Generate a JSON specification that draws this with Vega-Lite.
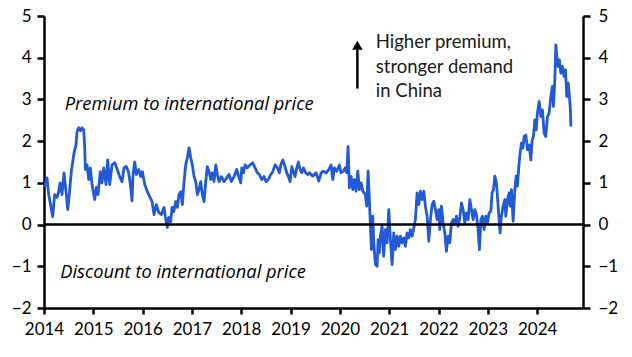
{
  "$schema": "https://vega.github.io/schema/vega-lite/v6.json",
  "width": 539,
  "height": 292,
  "autosize": {"type": "none"},
  "padding": {"left": 44, "top": 16, "right": 49, "bottom": 49},
  "config": {"view": {"stroke": null}, "font": "Lato"},
  "layer": [
    {
      "data": {"values": [
        {"t":2014.014,"v":0.9},{"t":2014.061,"v":1.12},{"t":2014.095,"v":0.72},{"t":2014.122,"v":0.55},{"t":2014.176,"v":0.19},{"t":2014.217,"v":0.72},{"t":2014.264,"v":0.65},{"t":2014.298,"v":0.79},{"t":2014.325,"v":1.0},{"t":2014.365,"v":0.72},{"t":2014.406,"v":1.24},{"t":2014.446,"v":0.79},{"t":2014.481,"v":0.36},{"t":2014.513,"v":0.72},{"t":2014.554,"v":1.27},{"t":2014.582,"v":1.5},{"t":2014.615,"v":1.75},{"t":2014.649,"v":1.91},{"t":2014.669,"v":2.22},{"t":2014.704,"v":2.32},{"t":2014.74,"v":2.25},{"t":2014.771,"v":2.32},{"t":2014.805,"v":2.27},{"t":2014.826,"v":1.84},{"t":2014.838,"v":1.32},{"t":2014.872,"v":1.43},{"t":2014.907,"v":1.08},{"t":2014.939,"v":1.36},{"t":2014.974,"v":0.96},{"t":2015.028,"v":0.6},{"t":2015.061,"v":0.89},{"t":2015.095,"v":0.72},{"t":2015.142,"v":1.27},{"t":2015.176,"v":1.0},{"t":2015.211,"v":1.36},{"t":2015.258,"v":0.96},{"t":2015.292,"v":1.55},{"t":2015.333,"v":0.96},{"t":2015.379,"v":1.43},{"t":2015.434,"v":1.48},{"t":2015.487,"v":1.32},{"t":2015.535,"v":1.15},{"t":2015.582,"v":1.03},{"t":2015.623,"v":1.36},{"t":2015.669,"v":1.39},{"t":2015.718,"v":1.24},{"t":2015.759,"v":0.89},{"t":2015.785,"v":0.57},{"t":2015.805,"v":1.2},{"t":2015.84,"v":1.5},{"t":2015.872,"v":1.2},{"t":2015.921,"v":1.32},{"t":2015.961,"v":1.15},{"t":2015.994,"v":1.27},{"t":2016.043,"v":0.96},{"t":2016.095,"v":0.79},{"t":2016.144,"v":0.67},{"t":2016.191,"v":0.55},{"t":2016.231,"v":0.24},{"t":2016.278,"v":0.48},{"t":2016.327,"v":0.29},{"t":2016.379,"v":0.24},{"t":2016.434,"v":0.41},{"t":2016.46,"v":0.19},{"t":2016.501,"v":-0.07},{"t":2016.529,"v":0.17},{"t":2016.57,"v":0.07},{"t":2016.596,"v":0.41},{"t":2016.631,"v":0.31},{"t":2016.671,"v":0.55},{"t":2016.704,"v":0.41},{"t":2016.738,"v":0.72},{"t":2016.773,"v":0.79},{"t":2016.805,"v":0.48},{"t":2016.84,"v":1.03},{"t":2016.874,"v":1.43},{"t":2016.907,"v":1.6},{"t":2016.941,"v":1.84},{"t":2016.976,"v":1.6},{"t":2017.008,"v":1.43},{"t":2017.043,"v":1.15},{"t":2017.077,"v":1.03},{"t":2017.11,"v":0.72},{"t":2017.144,"v":0.84},{"t":2017.178,"v":1.03},{"t":2017.211,"v":0.72},{"t":2017.245,"v":0.55},{"t":2017.28,"v":1.03},{"t":2017.312,"v":1.39},{"t":2017.347,"v":1.27},{"t":2017.381,"v":1.08},{"t":2017.414,"v":1.24},{"t":2017.448,"v":1.03},{"t":2017.483,"v":1.43},{"t":2017.515,"v":1.2},{"t":2017.55,"v":1.03},{"t":2017.596,"v":1.15},{"t":2017.651,"v":1.03},{"t":2017.706,"v":1.12},{"t":2017.753,"v":1.2},{"t":2017.799,"v":1.03},{"t":2017.854,"v":1.15},{"t":2017.909,"v":1.32},{"t":2017.955,"v":1.12},{"t":2017.99,"v":1.0},{"t":2018.01,"v":1.36},{"t":2018.043,"v":1.24},{"t":2018.077,"v":1.43},{"t":2018.124,"v":1.36},{"t":2018.179,"v":1.43},{"t":2018.233,"v":1.48},{"t":2018.28,"v":1.36},{"t":2018.327,"v":1.24},{"t":2018.367,"v":1.2},{"t":2018.416,"v":1.08},{"t":2018.462,"v":1.15},{"t":2018.503,"v":1.03},{"t":2018.55,"v":1.08},{"t":2018.598,"v":1.2},{"t":2018.639,"v":1.27},{"t":2018.686,"v":1.43},{"t":2018.732,"v":1.36},{"t":2018.773,"v":1.24},{"t":2018.801,"v":1.43},{"t":2018.842,"v":1.55},{"t":2018.888,"v":1.39},{"t":2018.923,"v":1.24},{"t":2018.955,"v":1.15},{"t":2018.99,"v":1.03},{"t":2019.024,"v":1.39},{"t":2019.057,"v":1.27},{"t":2019.091,"v":1.15},{"t":2019.126,"v":1.36},{"t":2019.158,"v":1.5},{"t":2019.193,"v":1.32},{"t":2019.227,"v":1.24},{"t":2019.26,"v":1.36},{"t":2019.308,"v":1.24},{"t":2019.349,"v":1.2},{"t":2019.381,"v":1.24},{"t":2019.45,"v":1.16},{"t":2019.517,"v":1.24},{"t":2019.572,"v":1.04},{"t":2019.619,"v":1.24},{"t":2019.665,"v":1.28},{"t":2019.72,"v":1.24},{"t":2019.775,"v":1.32},{"t":2019.822,"v":1.43},{"t":2019.856,"v":1.08},{"t":2019.888,"v":1.36},{"t":2019.937,"v":1.28},{"t":2019.99,"v":1.43},{"t":2020.024,"v":1.24},{"t":2020.071,"v":1.28},{"t":2020.112,"v":1.36},{"t":2020.14,"v":1.24},{"t":2020.166,"v":1.87},{"t":2020.193,"v":0.88},{"t":2020.227,"v":1.16},{"t":2020.262,"v":0.84},{"t":2020.294,"v":1.08},{"t":2020.329,"v":0.8},{"t":2020.363,"v":1.28},{"t":2020.396,"v":0.84},{"t":2020.43,"v":1.0},{"t":2020.465,"v":0.8},{"t":2020.517,"v":0.72},{"t":2020.546,"v":0.44},{"t":2020.572,"v":1.28},{"t":2020.598,"v":0.6},{"t":2020.619,"v":-0.04},{"t":2020.639,"v":-0.6},{"t":2020.667,"v":0.2},{"t":2020.688,"v":-0.43},{"t":2020.72,"v":-0.96},{"t":2020.755,"v":-1.0},{"t":2020.775,"v":-0.36},{"t":2020.801,"v":-0.68},{"t":2020.822,"v":-0.28},{"t":2020.856,"v":-0.04},{"t":2020.888,"v":-0.76},{"t":2020.923,"v":-0.12},{"t":2020.957,"v":-0.44},{"t":2020.992,"v":0.36},{"t":2021.024,"v":-0.36},{"t":2021.059,"v":-0.96},{"t":2021.093,"v":-0.2},{"t":2021.126,"v":-0.6},{"t":2021.16,"v":-0.28},{"t":2021.195,"v":-0.52},{"t":2021.227,"v":-0.28},{"t":2021.262,"v":-0.44},{"t":2021.296,"v":-0.32},{"t":2021.329,"v":-0.52},{"t":2021.363,"v":-0.2},{"t":2021.398,"v":-0.32},{"t":2021.43,"v":-0.12},{"t":2021.465,"v":-0.28},{"t":2021.499,"v":-0.08},{"t":2021.531,"v":0.12},{"t":2021.566,"v":0.76},{"t":2021.6,"v":0.48},{"t":2021.633,"v":0.8},{"t":2021.667,"v":0.6},{"t":2021.702,"v":0.8},{"t":2021.734,"v":0.44},{"t":2021.769,"v":0.2},{"t":2021.803,"v":-0.4},{"t":2021.836,"v":0.12},{"t":2021.87,"v":0.48},{"t":2021.905,"v":0.56},{"t":2021.937,"v":0.36},{"t":2021.972,"v":0.12},{"t":2022.006,"v":0.36},{"t":2022.026,"v":-0.12},{"t":2022.059,"v":0.44},{"t":2022.093,"v":0.04},{"t":2022.128,"v":-0.2},{"t":2022.16,"v":-0.64},{"t":2022.195,"v":-0.28},{"t":2022.229,"v":-0.44},{"t":2022.262,"v":0.04},{"t":2022.296,"v":0.12},{"t":2022.331,"v":0.0},{"t":2022.363,"v":0.2},{"t":2022.398,"v":-0.04},{"t":2022.432,"v":0.16},{"t":2022.465,"v":0.52},{"t":2022.499,"v":0.36},{"t":2022.533,"v":0.04},{"t":2022.566,"v":0.28},{"t":2022.6,"v":0.12},{"t":2022.635,"v":0.6},{"t":2022.667,"v":0.36},{"t":2022.702,"v":0.12},{"t":2022.736,"v":0.36},{"t":2022.769,"v":0.24},{"t":2022.803,"v":-0.12},{"t":2022.83,"v":-0.6},{"t":2022.858,"v":0.12},{"t":2022.89,"v":0.2},{"t":2022.925,"v":-0.12},{"t":2022.959,"v":0.2},{"t":2022.992,"v":0.04},{"t":2023.026,"v":0.28},{"t":2023.061,"v":0.32},{"t":2023.087,"v":0.76},{"t":2023.114,"v":0.84},{"t":2023.142,"v":1.16},{"t":2023.175,"v":1.0},{"t":2023.195,"v":0.68},{"t":2023.223,"v":0.2},{"t":2023.249,"v":-0.2},{"t":2023.276,"v":0.2},{"t":2023.31,"v":0.44},{"t":2023.345,"v":0.6},{"t":2023.365,"v":0.2},{"t":2023.398,"v":0.6},{"t":2023.432,"v":0.76},{"t":2023.452,"v":0.44},{"t":2023.479,"v":0.84},{"t":2023.513,"v":0.08},{"t":2023.548,"v":0.84},{"t":2023.574,"v":1.16},{"t":2023.6,"v":0.92},{"t":2023.629,"v":1.4},{"t":2023.655,"v":1.72},{"t":2023.682,"v":1.95},{"t":2023.71,"v":1.83},{"t":2023.736,"v":2.11},{"t":2023.771,"v":2.15},{"t":2023.803,"v":1.79},{"t":2023.838,"v":1.91},{"t":2023.872,"v":1.55},{"t":2023.899,"v":2.03},{"t":2023.925,"v":2.11},{"t":2023.953,"v":2.51},{"t":2023.98,"v":2.27},{"t":2024.006,"v":2.67},{"t":2024.041,"v":2.95},{"t":2024.075,"v":2.59},{"t":2024.108,"v":2.75},{"t":2024.142,"v":2.19},{"t":2024.176,"v":2.11},{"t":2024.209,"v":2.59},{"t":2024.243,"v":2.67},{"t":2024.278,"v":3.07},{"t":2024.31,"v":3.31},{"t":2024.331,"v":2.83},{"t":2024.359,"v":3.47},{"t":2024.379,"v":4.31},{"t":2024.4,"v":4.03},{"t":2024.426,"v":3.79},{"t":2024.452,"v":3.95},{"t":2024.481,"v":3.63},{"t":2024.513,"v":3.79},{"t":2024.548,"v":3.55},{"t":2024.574,"v":3.71},{"t":2024.602,"v":3.07},{"t":2024.629,"v":3.39},{"t":2024.655,"v":3.07},{"t":2024.675,"v":2.75},{"t":2024.684,"v":2.35}
      ]},
      "mark": {"type": "line", "color": "#2259D4", "strokeWidth": 2.8, "strokeJoin": "round"},
      "encoding": {
        "x": {"field": "t", "type": "quantitative", "title": null,
              "scale": {"domain": [2014, 2024.93], "nice": false, "zero": false},
              "axis": {"orient": "bottom", "values": [2014,2015,2016,2017,2018,2019,2020,2021,2022,2023,2024], "format": "d", "grid": false,
                       "domainColor": "black", "domainWidth": 2.5, "tickColor": "black", "tickWidth": 2.5, "tickSize": 6,
                       "labelFontSize": 17, "labelColor": "black", "labelPadding": 7, "labelFlush": false}},
        "y": {"field": "v", "type": "quantitative", "title": null,
              "scale": {"domain": [-2, 5], "nice": false, "zero": false},
              "axis": {"orient": "left", "values": [-2,-1,0,1,2,3,4,5], "grid": false,
                       "domainColor": "black", "domainWidth": 2.5, "tickColor": "black", "tickWidth": 2.5, "tickSize": 7,
                       "labelFontSize": 17, "labelColor": "black", "labelPadding": 6}}
      }
    },
    {
      "data": {"values": [{"v": 0}]},
      "mark": {"type": "rule", "color": "black", "strokeWidth": 2.5},
      "encoding": {
        "y": {"field": "v", "type": "quantitative", "title": null,
              "scale": {"domain": [-2, 5], "nice": false, "zero": false},
              "axis": {"orient": "right", "values": [-2,-1,0,1,2,3,4,5], "grid": false,
                       "domainColor": "black", "domainWidth": 2.5, "tickColor": "black", "tickWidth": 2.5, "tickSize": 7,
                       "labelFontSize": 17, "labelColor": "black", "labelPadding": 8}}
      }
    },
    {
      "data": {"values": [
        {"t": 2014.42, "v": 2.75, "label": "Premium to international price"},
        {"t": 2014.33, "v": -1.27, "label": "Discount to international price"}
      ]},
      "mark": {"type": "text", "align": "left", "baseline": "alphabetic", "font": "Open Sans", "fontStyle": "italic", "fontSize": 18.3, "color": "black"},
      "encoding": {
        "x": {"field": "t", "type": "quantitative", "title": null},
        "y": {"field": "v", "type": "quantitative", "title": null, "scale": {"domain": [-2, 5], "nice": false, "zero": false}, "axis": null},
        "text": {"field": "label"}
      }
    },
    {
      "data": {"values": [
        {"t": 2020.728, "v": 4.23, "label": "Higher premium,"},
        {"t": 2020.728, "v": 3.63, "label": "stronger demand"},
        {"t": 2020.728, "v": 3.06, "label": "in China"}
      ]},
      "mark": {"type": "text", "align": "left", "baseline": "alphabetic", "fontSize": 18.5, "color": "#1a1a1a"},
      "encoding": {
        "x": {"field": "t", "type": "quantitative", "title": null},
        "y": {"field": "v", "type": "quantitative", "title": null, "scale": {"domain": [-2, 5], "nice": false, "zero": false}, "axis": null},
        "text": {"field": "label"}
      }
    },
    {
      "data": {"values": [{"t": 2020.355, "v": 3.26, "v2": 4.2}]},
      "mark": {"type": "rule", "color": "black", "strokeWidth": 2.5},
      "encoding": {
        "x": {"field": "t", "type": "quantitative", "title": null},
        "y": {"field": "v", "type": "quantitative", "title": null, "scale": {"domain": [-2, 5], "nice": false, "zero": false}, "axis": null},
        "y2": {"field": "v2"}
      }
    },
    {
      "data": {"values": [{"t": 2020.355, "v": 4.3}]},
      "mark": {"type": "point", "shape": "triangle-up", "filled": true, "color": "black", "size": 110, "opacity": 1},
      "encoding": {
        "x": {"field": "t", "type": "quantitative", "title": null},
        "y": {"field": "v", "type": "quantitative", "title": null, "scale": {"domain": [-2, 5], "nice": false, "zero": false}, "axis": null}
      }
    }
  ],
  "resolve": {"scale": {"y": "independent"}}
}
